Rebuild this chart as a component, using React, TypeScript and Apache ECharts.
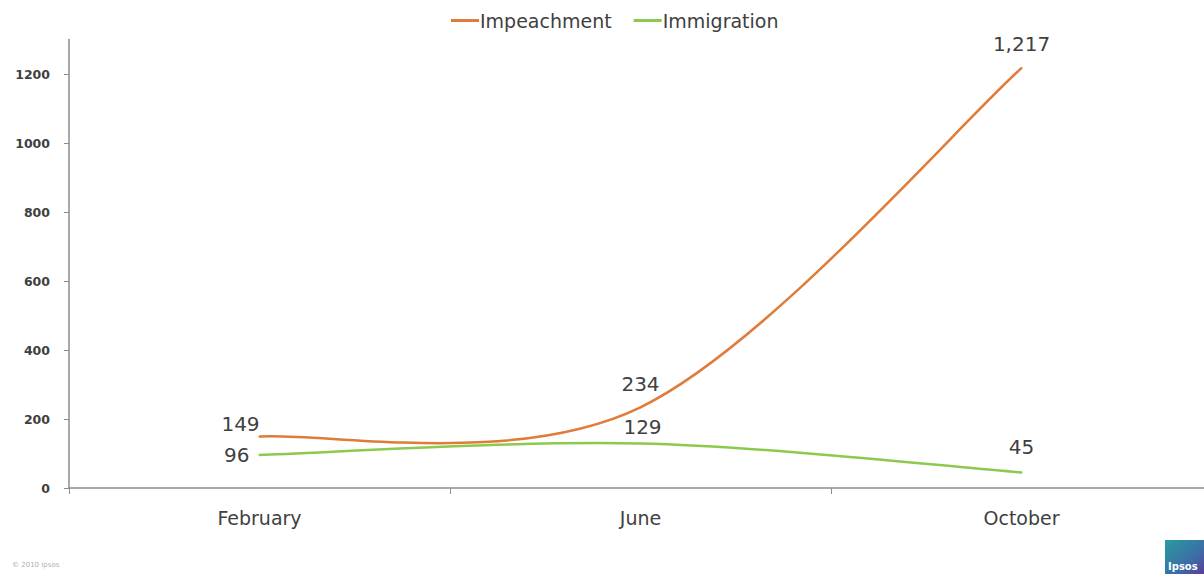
import React, { useEffect, useRef } from "react";
import * as echarts from "echarts";

const categories = ["February", "June", "October"];
const impeachment = [149, 234, 1217];
const immigration = [96, 129, 45];
const yTicks = [0, 200, 400, 600, 800, 1000, 1200];

const FONT = "'DejaVu Sans', sans-serif";
const ORANGE = "#e07b39";
const GREEN = "#8dc94e";

function curveRenderer(arr: number[], color: string) {
  return (params: any, api: any) => {
    const i = params.dataIndex;
    if (i >= arr.length - 1) return null;
    const P = (k: number) => {
      const kk = Math.max(0, Math.min(arr.length - 1, k));
      return api.coord([kk, arr[kk]]);
    };
    const p0 = P(i - 1);
    const p1 = P(i);
    const p2 = P(i + 1);
    const p3 = P(i + 2);
    return {
      type: "bezierCurve",
      shape: {
        x1: p1[0],
        y1: p1[1],
        x2: p2[0],
        y2: p2[1],
        cpx1: p1[0] + (p2[0] - p0[0]) / 6,
        cpy1: p1[1] + (p2[1] - p0[1]) / 6,
        cpx2: p2[0] - (p3[0] - p1[0]) / 6,
        cpy2: p2[1] - (p3[1] - p1[1]) / 6,
      },
      style: { stroke: color, lineWidth: 2.5, fill: null },
    };
  };
}

export default function App() {
  const ref = useRef<HTMLDivElement>(null);
  useEffect(() => {
    document.body.style.margin = "0";
    document.body.style.overflow = "hidden";
    const chart = echarts.init(ref.current!, null, { renderer: "svg" });
    const labelBase = { show: true, color: "#404040", fontSize: 20, fontFamily: FONT };
    chart.setOption({
      animation: false,
      backgroundColor: "#ffffff",
      textStyle: { fontFamily: FONT },
      legend: {
        top: 6,
        left: 446,
        icon: "rect",
        itemWidth: 28,
        itemHeight: 3,
        itemGap: 22,
        textStyle: { fontSize: 19, color: "#404040", fontFamily: FONT, padding: [0, 0, 0, -4] },
        data: ["Impeachment", "Immigration"],
      },
      grid: { left: 69, right: 0, top: 39.5, bottom: 86 },
      xAxis: {
        type: "category",
        data: categories,
        boundaryGap: true,
        axisLine: { lineStyle: { color: "#8c8c8c", width: 1.5 } },
        axisTick: { show: true, length: 6, lineStyle: { color: "#8c8c8c" } },
        axisLabel: { color: "#404040", fontSize: 19, margin: 20, fontFamily: FONT },
      },
      yAxis: {
        type: "value",
        min: 0,
        max: 1300,
        interval: 200,
        splitLine: { show: false },
        axisLine: { show: true, lineStyle: { color: "#8c8c8c", width: 1.5 } },
        axisTick: { show: true, length: 5, lineStyle: { color: "#8c8c8c" } },
        axisLabel: {
          color: "#404040",
          fontSize: 12.5,
          fontWeight: "bold",
          margin: 19,
          fontFamily: FONT,
          showMaxLabel: false,
          formatter: (v: number) => (yTicks.includes(v) ? String(v) : ""),
        },
      },
      series: [
        {
          name: "Impeachment",
          type: "line",
          symbol: "circle",
          symbolSize: 2,
          lineStyle: { opacity: 0 },
          itemStyle: { color: ORANGE },
          z: 3,
          data: impeachment.map((v, i) => ({
            value: v,
            label: {
              ...labelBase,
              position: "top",
              offset: i === 0 ? [-19, 3] : i === 1 ? [0, -7] : [0, -8],
              formatter: (p: any) => Number(p.value).toLocaleString("en-US"),
            },
          })),
        },
        {
          name: "Immigration",
          type: "line",
          symbol: "circle",
          symbolSize: 2,
          lineStyle: { opacity: 0 },
          itemStyle: { color: GREEN },
          z: 3,
          data: immigration.map((v, i) => ({
            value: v,
            label: {
              ...labelBase,
              position: i === 0 ? "left" : "top",
              distance: i === 0 ? 9 : 5,
              offset: i === 2 ? [0, -9] : i === 1 ? [2, 0] : [0, 0],
            },
          })),
        },
        {
          name: "Impeachment",
          type: "custom",
          renderItem: curveRenderer(impeachment, ORANGE),
          data: impeachment.map((v, i) => [i, v]),
          z: 2,
        },
        {
          name: "Immigration",
          type: "custom",
          renderItem: curveRenderer(immigration, GREEN),
          data: immigration.map((v, i) => [i, v]),
          z: 2,
        },
      ],
      graphic: [
        {
          type: "text",
          left: 12,
          top: 561,
          style: { text: "© 2010 Ipsos", fill: "#b0b0b0", font: "7px " + FONT },
        },
        {
          type: "group",
          left: 1165,
          top: 540,
          children: [
            {
              type: "rect",
              shape: { x: 0, y: 0, width: 39, height: 34 },
              style: {
                fill: new echarts.graphic.LinearGradient(0, 0, 1, 1, [
                  { offset: 0, color: "#2a9c9c" },
                  { offset: 0.6, color: "#3a6fa8" },
                  { offset: 1, color: "#5a3f99" },
                ]),
              },
            },
            {
              type: "text",
              x: 3,
              y: 21,
              style: { text: "Ipsos", fill: "#ffffff", font: "bold 10px " + FONT },
            },
          ],
        },
      ],
    });
    return () => chart.dispose();
  }, []);
  return <div ref={ref} style={{ width: 1212, height: 574 }} />;
}
